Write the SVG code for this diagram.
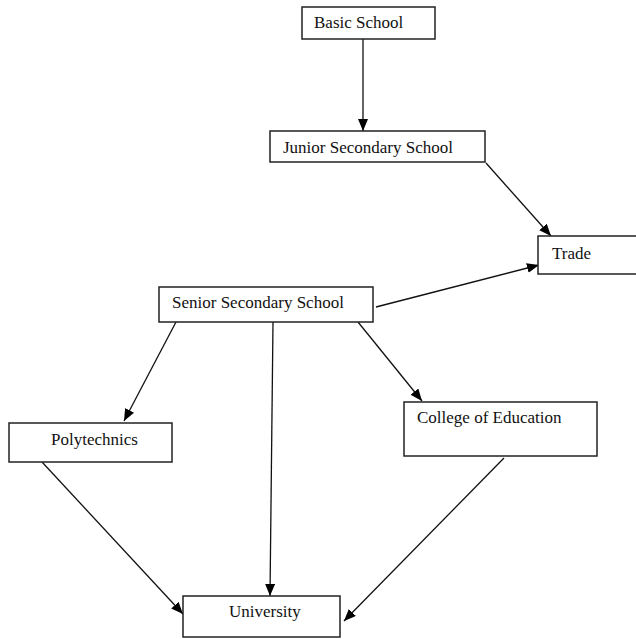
<svg xmlns="http://www.w3.org/2000/svg" width="636" height="639" viewBox="0 0 636 639">
<style>
.box{fill:#fff;stroke:#222;stroke-width:1.5}
.lbl{font-family:"Liberation Serif","Times New Roman",serif;font-size:17px;fill:#111}
.edge{stroke:#111;stroke-width:1.3;fill:none}
</style>
<defs>
<marker id="ah" markerUnits="userSpaceOnUse" markerWidth="13" markerHeight="11" refX="12" refY="5" orient="auto">
<path d="M0,0 L12,5 L0,10 z" fill="#000"/>
</marker>
</defs>
<rect width="636" height="639" fill="#fff"/>
<g id="connectors">
<line class="edge" x1="363" y1="39" x2="363" y2="131" marker-end="url(#ah)"/>
<line class="edge" x1="486" y1="163" x2="551" y2="236" marker-end="url(#ah)"/>
<line class="edge" x1="376" y1="307" x2="539" y2="265" marker-end="url(#ah)"/>
<line class="edge" x1="176" y1="322" x2="124" y2="421" marker-end="url(#ah)"/>
<line class="edge" x1="273" y1="322" x2="270" y2="596" marker-end="url(#ah)"/>
<line class="edge" x1="358" y1="322" x2="422" y2="401" marker-end="url(#ah)"/>
<line class="edge" x1="42" y1="462" x2="183" y2="614" marker-end="url(#ah)"/>
<line class="edge" x1="504" y1="458" x2="344" y2="621" marker-end="url(#ah)"/>
</g>
<g id="basic"><rect class="box" x="302" y="7" width="133" height="32"/><text class="lbl" x="314" y="28">Basic School</text></g>
<g id="junior"><rect class="box" x="270" y="131" width="215" height="31"/><text class="lbl" x="283" y="153">Junior Secondary School</text></g>
<g id="trade"><rect class="box" x="538" y="236" width="110" height="38"/><text class="lbl" x="552" y="259">Trade</text></g>
<g id="senior"><rect class="box" x="159" y="287" width="214" height="35"/><text class="lbl" x="172" y="308">Senior Secondary School</text></g>
<g id="polytechnics"><rect class="box" x="9" y="423" width="163" height="39"/><text class="lbl" x="51" y="445">Polytechnics</text></g>
<g id="college"><rect class="box" x="404" y="402" width="193" height="54"/><text class="lbl" x="417" y="423">College of Education</text></g>
<g id="university"><rect class="box" x="183" y="596" width="157" height="41"/><text class="lbl" x="229" y="617">University</text></g>
</svg>
